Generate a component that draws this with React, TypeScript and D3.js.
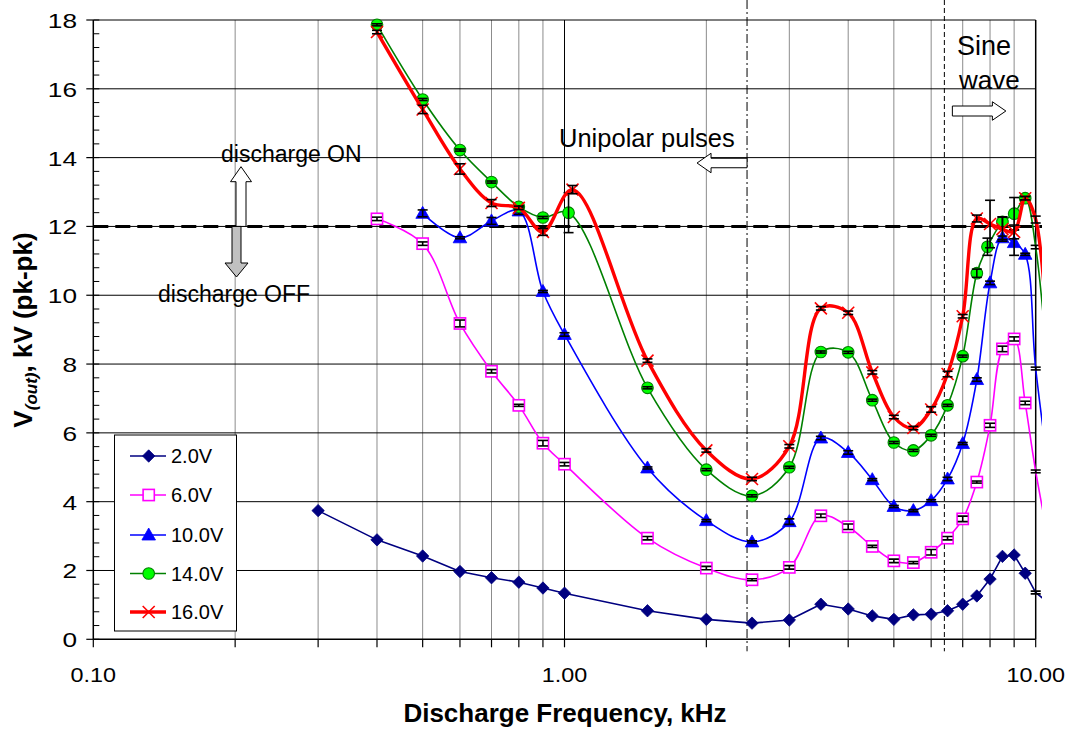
import React from "react";
import * as d3 from "d3";

// ---- data: output voltage (kV pk-pk) vs. discharge frequency (kHz) ----
const freq2V = [0.3, 0.4, 0.5, 0.6, 0.7, 0.8, 0.9, 1.0, 1.5, 2.0, 2.5, 3.0, 3.5, 4.0, 4.5, 5.0, 5.5, 6.0, 6.5, 7.0, 7.5, 8.0, 8.5, 9.0, 9.5, 10.0, 11.0];
const kv2V = [3.74, 2.89, 2.42, 1.97, 1.79, 1.66, 1.49, 1.34, 0.83, 0.58, 0.47, 0.56, 1.02, 0.88, 0.68, 0.58, 0.71, 0.73, 0.83, 1.02, 1.26, 1.75, 2.41, 2.45, 1.92, 1.36, 0.9];
const err2V = [0, 0, 0, 0, 0, 0, 0, 0, 0, 0, 0, 0, 0, 0, 0, 0, 0, 0, 0, 0, 0, 0, 0, 0, 0, 0.04, 0];

const freq6V = [0.4, 0.5, 0.6, 0.7, 0.8, 0.9, 1.0, 1.5, 2.0, 2.5, 3.0, 3.5, 4.0, 4.5, 5.0, 5.5, 6.0, 6.5, 7.0, 7.5, 8.0, 8.5, 9.0, 9.5, 10.0, 11.0];
const kv6V = [12.22, 11.5, 9.18, 7.79, 6.8, 5.7, 5.09, 2.94, 2.07, 1.73, 2.09, 3.59, 3.27, 2.7, 2.28, 2.23, 2.53, 2.94, 3.5, 4.57, 6.22, 8.44, 8.73, 6.87, 4.88, 1.9];
const err6V = [0.05, 0.05, 0.1, 0.05, 0.03, 0.08, 0.05, 0.05, 0.05, 0.03, 0.05, 0.05, 0.08, 0.03, 0.05, 0.03, 0.08, 0.05, 0.08, 0.03, 0.06, 0.08, 0.06, 0.05, 0.04, 0];

const freq10V = [0.5, 0.6, 0.7, 0.8, 0.9, 1.0, 1.5, 2.0, 2.5, 3.0, 3.5, 4.0, 4.5, 5.0, 5.5, 6.0, 6.5, 7.0, 7.5, 8.0, 8.5, 9.0, 9.5, 10.0, 11.0];
const kv10V = [12.38, 11.67, 12.16, 12.45, 10.11, 8.86, 4.98, 3.45, 2.83, 3.42, 5.85, 5.43, 4.64, 3.86, 3.74, 4.03, 4.66, 5.69, 7.55, 10.36, 11.67, 11.53, 11.19, 7.87, 3.5];
const err10V = [0.1, 0.03, 0.1, 0.1, 0.03, 0.05, 0.03, 0.03, 0.03, 0.08, 0.05, 0.05, 0.03, 0.03, 0.03, 0.03, 0.05, 0.03, 0.05, 0.05, 0.05, 0.37, 0.03, 0.04, 0];

const freq14V = [0.4, 0.5, 0.6, 0.7, 0.8, 0.9, 1.02, 1.5, 2.0, 2.5, 3.0, 3.5, 4.0, 4.5, 5.0, 5.5, 6.0, 6.5, 7.0, 7.5, 7.9, 8.5, 9.0, 9.5, 10.0, 11.0];
const kv14V = [17.86, 15.69, 14.22, 13.29, 12.57, 12.26, 12.4, 7.31, 4.93, 4.17, 5.0, 8.35, 8.34, 6.95, 5.72, 5.49, 5.93, 6.8, 8.23, 10.64, 11.41, 12.13, 12.37, 12.82, 11.4, 5.0];
const err14V = [0.03, 0.03, 0.03, 0.03, 0.03, 0.03, 0.58, 0.03, 0.03, 0.03, 0.03, 0.03, 0.03, 0.03, 0.03, 0.03, 0.03, 0.03, 0.03, 0.12, 0.25, 0.15, 0.47, 0.05, 0.05, 0];

const freq16V = [0.4, 0.5, 0.6, 0.7, 0.8, 0.9, 1.04, 1.5, 2.0, 2.5, 3.0, 3.5, 4.0, 4.5, 5.0, 5.5, 6.0, 6.5, 7.0, 7.5, 8.0, 8.5, 9.0, 9.5, 10.0, 11.0];
const kv16V = [17.65, 15.4, 13.67, 12.68, 12.54, 11.84, 13.07, 8.1, 5.49, 4.66, 5.61, 9.62, 9.49, 7.76, 6.46, 6.14, 6.68, 7.71, 9.39, 12.23, 12.07, 11.92, 11.84, 12.82, 12.2, 4.7];
const err16V = [0.05, 0.12, 0.15, 0.1, 0.05, 0.1, 0.12, 0.05, 0.05, 0.05, 0.05, 0.05, 0.05, 0.05, 0.05, 0.05, 0.08, 0.08, 0.05, 0.1, 0.69, 0.35, 0.2, 0.05, 0.1, 0];

const seriesNames = ["2.0V", "6.0V", "10.0V", "14.0V", "16.0V"];
const yTickValues = [0, 2, 4, 6, 8, 10, 12, 14, 16, 18];
const xTickLabels = [
  { f: 0.1, label: "0.10" },
  { f: 1, label: "1.00" },
  { f: 10, label: "10.00" },
];

// thresholds / regime boundaries (kHz, kV)
const DISCHARGE_THRESHOLD_KV = 12;
const UNIPOLAR_LIMIT_KHZ = 2.44;
const SINE_LIMIT_KHZ = 6.4;

// ---- layout ----
const W = 1074;
const H = 731;
const PL = 93.3;
const PR = 1035.7;
const PT = 20;
const PB = 639.3;
const CLIP_R = 1042;

const FONT = "'Liberation Sans', Arial, Helvetica, sans-serif";

type Marker = "diamond" | "square" | "triangle" | "circle" | "x";

interface Series {
  name: string;
  freq: number[];
  kv: number[];
  err: number[];
  color: string;
  width: number;
  marker: Marker;
  smooth: boolean;
}

const series: Series[] = [
  { name: seriesNames[0], freq: freq2V, kv: kv2V, err: err2V, color: "#000080", width: 1.6, marker: "diamond", smooth: false },
  { name: seriesNames[1], freq: freq6V, kv: kv6V, err: err6V, color: "#ff00ff", width: 1.6, marker: "square", smooth: true },
  { name: seriesNames[2], freq: freq10V, kv: kv10V, err: err10V, color: "#0000ff", width: 1.6, marker: "triangle", smooth: true },
  { name: seriesNames[3], freq: freq14V, kv: kv14V, err: err14V, color: "#008000", width: 1.6, marker: "circle", smooth: true },
  { name: seriesNames[4], freq: freq16V, kv: kv16V, err: err16V, color: "#ff0000", width: 3.4, marker: "x", smooth: true },
];

function MarkerShape({ kind, x, y }: { kind: Marker; x: number; y: number }) {
  switch (kind) {
    case "diamond":
      return <path d={`M${x},${y - 6.2}L${x + 6.2},${y}L${x},${y + 6.2}L${x - 6.2},${y}Z`} fill="#000080" stroke="#000080" strokeWidth={0.8} />;
    case "square":
      return <rect x={x - 5.6} y={y - 5.6} width={11.2} height={11.2} fill="#ffffff" stroke="#ff00ff" strokeWidth={1.6} />;
    case "triangle":
      return <path d={`M${x},${y - 7}L${x + 6.8},${y + 5}L${x - 6.8},${y + 5}Z`} fill="#0000ff" stroke="#0000ff" strokeWidth={0.8} />;
    case "circle":
      return <circle cx={x} cy={y} r={5.8} fill="#00ff00" stroke="#008000" strokeWidth={1.1} />;
    case "x":
      return (
        <g stroke="#ff0000" strokeWidth={1.6}>
          <line x1={x - 6} y1={y - 6} x2={x + 6} y2={y + 6} />
          <line x1={x - 6} y1={y + 6} x2={x + 6} y2={y - 6} />
        </g>
      );
  }
}

// text drawn with a horizontal stretch factor
function SText(props: {
  x: number;
  y: number;
  sx?: number;
  anchor?: string;
  size: number;
  weight?: string | number;
  children: React.ReactNode;
}) {
  const { x, y, sx = 1, anchor = "start", size, weight = "normal", children } = props;
  return (
    <text
      transform={`translate(${x},${y}) scale(${sx},1)`}
      textAnchor={anchor}
      fontFamily={FONT}
      fontSize={size}
      fontWeight={weight}
      fill="#000"
    >
      {children}
    </text>
  );
}

export default function App() {
  const x = d3.scaleLog().domain([0.1, 10]).range([PL, PR]);
  const y = d3.scaleLinear().domain([0, 18]).range([PB, PT]);

  const xGrid = x.ticks(); // 0.1 … 1 … 10
  const yMinor = d3.range(0, 18.0001, 0.4);

  const lineFor = (s: Series) =>
    d3
      .line<number>()
      .x((_, i) => x(s.freq[i]))
      .y((v) => y(v))
      .curve(s.smooth ? d3.curveCatmullRom.alpha(0.5) : d3.curveLinear)(s.kv) || "";

  // arrow helpers (block arrows used for annotations)
  const vArrow = (cx: number, yBase: number, yTip: number, shaftW: number, headW: number, headLen: number) => {
    const dir = yTip < yBase ? -1 : 1;
    const yHead = yTip - dir * headLen;
    return `M${cx - shaftW / 2},${yBase}L${cx - shaftW / 2},${yHead}L${cx - headW / 2},${yHead}L${cx},${yTip}L${cx + headW / 2},${yHead}L${cx + shaftW / 2},${yHead}L${cx + shaftW / 2},${yBase}Z`;
  };
  const hArrow = (cy: number, xBase: number, xTip: number, shaftH: number, headH: number, headLen: number) => {
    const dir = xTip < xBase ? -1 : 1;
    const xHead = xTip - dir * headLen;
    return `M${xBase},${cy - shaftH / 2}L${xHead},${cy - shaftH / 2}L${xHead},${cy - headH / 2}L${xTip},${cy}L${xHead},${cy + headH / 2}L${xHead},${cy + shaftH / 2}L${xBase},${cy + shaftH / 2}Z`;
  };

  const yThr = y(DISCHARGE_THRESHOLD_KV);
  const xUni = x(UNIPOLAR_LIMIT_KHZ);
  const xSine = x(SINE_LIMIT_KHZ);

  // legend layout
  const LG = { x: 114.5, y: 435, w: 122, h: 196 };
  const legendRows = [456, 495, 535, 573.5, 612];

  return (
    <svg
      width={W}
      height={H}
      viewBox={`0 0 ${W} ${H}`}
      style={{ position: "absolute", left: 0, top: 0, background: "#fff" }}
    >
      <defs>
        <clipPath id="plotClip">
          <rect x={PL} y={0} width={CLIP_R - PL} height={PB} />
        </clipPath>
      </defs>
      <rect x={0} y={0} width={W} height={H} fill="#fff" />

      {/* vertical grid */}
      {xGrid
        .filter((f) => f > 0.1 && f < 10)
        .map((f, i) => (
          <line
            key={"vg" + i}
            x1={x(f)}
            x2={x(f)}
            y1={PT}
            y2={PB}
            stroke={Math.abs(f - 1) < 1e-9 ? "#000" : "#8c8c8c"}
            strokeWidth={1}
          />
        ))}
      {/* horizontal grid */}
      {yTickValues
        .filter((v) => v > 0)
        .map((v) => (
          <line key={"hg" + v} x1={PL} x2={PR} y1={y(v)} y2={y(v)} stroke="#000" strokeWidth={1} />
        ))}

      {/* frame */}
      <line x1={PR} x2={PR} y1={PT} y2={PB} stroke="#000" strokeWidth={1.5} />
      <line x1={PL} x2={PL} y1={PT} y2={PB} stroke="#000" strokeWidth={1.5} />
      <line x1={PL} x2={PR} y1={PB} y2={PB} stroke="#000" strokeWidth={1.5} />

      {/* y ticks: major outside, minor inside */}
      {yTickValues.map((v) => (
        <line key={"yt" + v} x1={PL - 7} x2={PL} y1={y(v)} y2={y(v)} stroke="#000" strokeWidth={1.2} />
      ))}
      {yMinor.map((v, i) => (
        <line key={"ym" + i} x1={PL} x2={PL + 6} y1={y(v)} y2={y(v)} stroke="#000" strokeWidth={1} />
      ))}
      {/* x ticks */}
      {xGrid.map((f, i) => (
        <line key={"xt" + i} x1={x(f)} x2={x(f)} y1={PB} y2={PB + 8} stroke="#000" strokeWidth={1.2} />
      ))}

      {/* tick labels */}
      {yTickValues.map((v) => (
        <SText key={"yl" + v} x={77} y={y(v) + 8} sx={1.28} anchor="end" size={20.5}>
          {String(v)}
        </SText>
      ))}
      {xTickLabels.map((t) => (
        <SText key={"xl" + t.label} x={x(t.f)} y={682} sx={1.14} anchor="middle" size={20.5}>
          {t.label}
        </SText>
      ))}

      {/* axis titles */}
      <SText x={565} y={722} anchor="middle" size={26} weight="bold">
        Discharge Frequency, kHz
      </SText>
      <text
        transform={`translate(32,330) rotate(-90)`}
        textAnchor="middle"
        fontFamily={FONT}
        fontSize={26}
        fontWeight="bold"
      >
        V
        <tspan fontSize={17} fontStyle="italic" dy={5}>
          (out)
        </tspan>
        <tspan dy={-5}>, kV (pk-pk)</tspan>
      </text>

      {/* regime boundaries */}
      <line x1={xUni} x2={xUni} y1={0} y2={PB + 12} stroke="#000" strokeWidth={1} strokeDasharray="9 3 2 3" />
      <line x1={xSine} x2={xSine} y1={0} y2={PB + 12} stroke="#000" strokeWidth={1} strokeDasharray="5 3" />

      {/* discharge threshold */}
      <g clipPath="url(#plotClip)">
        <line x1={PL} x2={CLIP_R + 12} y1={yThr} y2={yThr} stroke="#000" strokeWidth={3} strokeDasharray="15 7" />
      </g>

      {/* series */}
      <g clipPath="url(#plotClip)">
        {series.map((s) => (
          <g key={s.name}>
            <path d={lineFor(s)} fill="none" stroke={s.color} strokeWidth={s.width} strokeLinejoin="round" />
            {s.kv.map((v, i) =>
              s.freq[i] < 10 ? <MarkerShape key={"m" + i} kind={s.marker} x={x(s.freq[i])} y={y(v)} /> : null
            )}
            {s.kv.map((v, i) =>
              s.err[i] > 0 ? (
                <g key={"e" + i} stroke="#000" strokeWidth={1.6}>
                  <line x1={x(s.freq[i])} x2={x(s.freq[i])} y1={y(v - s.err[i])} y2={y(v + s.err[i])} />
                  <line x1={x(s.freq[i]) - 5} x2={x(s.freq[i]) + 5} y1={y(v - s.err[i])} y2={y(v - s.err[i])} />
                  <line x1={x(s.freq[i]) - 5} x2={x(s.freq[i]) + 5} y1={y(v + s.err[i])} y2={y(v + s.err[i])} />
                </g>
              ) : null
            )}
          </g>
        ))}
      </g>

      {/* annotations */}
      <path d={vArrow(241, yThr, 166.7, 10, 21, 15)} fill="#fff" stroke="#000" strokeWidth={1} />
      <path d={vArrow(236.5, yThr, 277, 9, 23, 14)} fill="#c0c0c0" stroke="#000" strokeWidth={1} />
      <SText x={221} y={162} size={23}>discharge ON</SText>
      <SText x={158} y={302} size={23}>discharge OFF</SText>

      <path d={hArrow(163, xUni, xUni - 50, 9.5, 19.5, 14)} fill="#fff" stroke="#000" strokeWidth={1} />
      <SText x={559} y={146.5} size={25.5}>Unipolar pulses</SText>

      <path d={hArrow(111, xSine + 8, xSine + 61.5, 10, 18.5, 13.5)} fill="#fff" stroke="#000" strokeWidth={1} />
      <SText x={957} y={55} size={27}>Sine</SText>
      <SText x={959} y={88.5} size={26}>wave</SText>

      {/* legend */}
      <rect x={LG.x} y={LG.y} width={LG.w} height={LG.h} fill="#fff" stroke="#000" strokeWidth={1} />
      {series.map((s, i) => (
        <g key={"lg" + s.name}>
          <line x1={130} x2={166} y1={legendRows[i]} y2={legendRows[i]} stroke={s.color} strokeWidth={s.width} />
          <MarkerShape kind={s.marker} x={148.7} y={legendRows[i]} />
          <SText x={171} y={legendRows[i] + 7.3} size={20}>
            {s.name}
          </SText>
        </g>
      ))}
    </svg>
  );
}
